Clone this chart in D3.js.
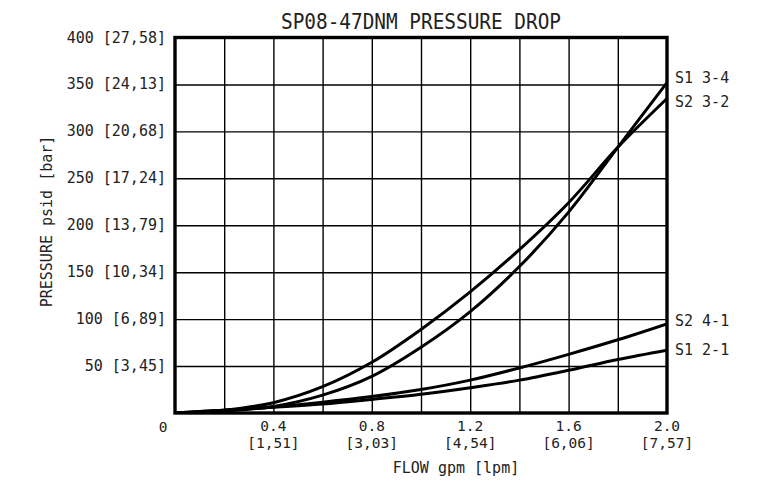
<!DOCTYPE html>
<html>
<head>
<meta charset="utf-8">
<script src="https://cdn.jsdelivr.net/npm/d3@7"></script>
<style>
  html, body { margin: 0; padding: 0; background: #fff; }
  svg { display: block; }
  text { font-family: "DejaVu Sans Mono", monospace; fill: #222; }
</style>
</head>
<body>
<svg id="chart" width="767" height="493"></svg>
<script>
// ---- data ----
const flow   = [0, 0.2, 0.4, 0.6, 0.8, 1.0, 1.2, 1.4, 1.6, 1.8, 2.0];
const s1_34  = [0, 2, 7, 19, 39, 70, 108, 156, 214, 283, 352];
const s2_32  = [0, 3, 11, 28, 54, 89, 129, 174, 224, 283, 335];
const s2_41  = [0, 3, 6.5, 11.5, 17.5, 25, 35, 48, 62.5, 78, 95];
const s1_21  = [0, 3, 6, 9.5, 14.5, 20, 27, 35, 45.5, 57, 67];
const seriesNames = ["S1 3-4", "S2 3-2", "S2 4-1", "S1 2-1"];
const seriesValues = [s1_34, s2_32, s2_41, s1_21];

const yGridTicks = [50, 100, 150, 200, 250, 300, 350, 400];
const yTickLabels = ["50 [3,45]", "100 [6,89]", "150 [10,34]", "200 [13,79]",
                     "250 [17,24]", "300 [20,68]", "350 [24,13]", "400 [27,58]"];
const xGridTicks = [0.2, 0.4, 0.6, 0.8, 1.0, 1.2, 1.4, 1.6, 1.8];
const xLabelTicks = [0.4, 0.8, 1.2, 1.6, 2.0];
const xTickGpm = ["0.4", "0.8", "1.2", "1.6", "2.0"];
const xTickLpm = ["[1,51]", "[3,03]", "[4,54]", "[6,06]", "[7,57]"];

const title = "SP08-47DNM PRESSURE DROP";
const xTitle = "FLOW gpm [lpm]";
const yTitle = "PRESSURE psid [bar]";

// ---- layout ----
const L = 175, R = 667, T = 37.5, B = 413;
const svg = d3.select("#chart");
const x = d3.scaleLinear().domain([0, 2]).range([L, R]);
const y = d3.scaleLinear().domain([0, 400]).range([B, T]);

// grid via axes
svg.append("g")
  .attr("transform", `translate(0,${B})`)
  .call(d3.axisBottom(x).tickValues(xGridTicks).tickSize(-(B - T)).tickFormat(""))
  .call(g => g.select(".domain").remove())
  .call(g => g.selectAll("line").attr("stroke", "#000").attr("stroke-width", 1.4));

svg.append("g")
  .attr("transform", `translate(${L},0)`)
  .call(d3.axisLeft(y).tickValues(yGridTicks.filter(v => v < 400)).tickSize(-(R - L)).tickFormat(""))
  .call(g => g.select(".domain").remove())
  .call(g => g.selectAll("line").attr("stroke", "#000").attr("stroke-width", 1.4));

// y tick labels
svg.append("g").selectAll("text")
  .data(yGridTicks)
  .join("text")
  .attr("x", 166)
  .attr("y", d => y(d) + 5)
  .attr("text-anchor", "end")
  .attr("font-size", 15)
  .text((d, i) => yTickLabels[i]);

// zero label
svg.append("text")
  .attr("x", x(0) - 12).attr("y", B + 18.5)
  .attr("text-anchor", "middle").attr("font-size", 14.5)
  .text("0");

// x tick labels
const xl = svg.append("g").selectAll("g")
  .data(xLabelTicks)
  .join("g")
  .attr("transform", d => `translate(${x(d)},0)`);
xl.append("text")
  .attr("y", B + 18).attr("text-anchor", "middle").attr("font-size", 14.5)
  .text((d, i) => xTickGpm[i]);
xl.append("text")
  .attr("y", B + 35).attr("text-anchor", "middle").attr("font-size", 14.5)
  .text((d, i) => xTickLpm[i]);

// curves
const line = d3.line()
  .x((d, i) => x(flow[i]))
  .y(d => y(d))
  .curve(d3.curveCatmullRom.alpha(0.5));

const defs = svg.append("defs");
defs.append("clipPath").attr("id", "clip")
  .append("rect").attr("x", L).attr("y", T).attr("width", R - L).attr("height", B - T);

svg.append("g").attr("clip-path", "url(#clip)")
  .selectAll("path")
  .data(seriesValues)
  .join("path")
  .attr("d", d => line(d))
  .attr("fill", "none")
  .attr("stroke", "#000")
  .attr("stroke-width", 3);

// frame
svg.append("rect")
  .attr("x", L).attr("y", T).attr("width", R - L).attr("height", B - T)
  .attr("fill", "none").attr("stroke", "#000").attr("stroke-width", 3.4);

// series labels
const labelOffsets = [-5, 2.5, -3, -1];
svg.append("g").selectAll("text")
  .data(seriesNames)
  .join("text")
  .attr("x", 675)
  .attr("y", (d, i) => y(seriesValues[i][seriesValues[i].length - 1]) + labelOffsets[i] + 5.5)
  .attr("font-size", 15)
  .text(d => d);

// titles
svg.append("text")
  .attr("x", (L + R) / 2).attr("y", 29.3)
  .attr("text-anchor", "middle").attr("font-size", 21)
  .attr("textLength", 280).attr("lengthAdjust", "spacingAndGlyphs")
  .text(title);

svg.append("text")
  .attr("x", 456).attr("y", 473)
  .attr("text-anchor", "middle").attr("font-size", 15)
  .text(xTitle);

svg.append("text")
  .attr("transform", "translate(52,221.5) rotate(-90)")
  .attr("text-anchor", "middle").attr("font-size", 15)
  .text(yTitle);
</script>
</body>
</html>
